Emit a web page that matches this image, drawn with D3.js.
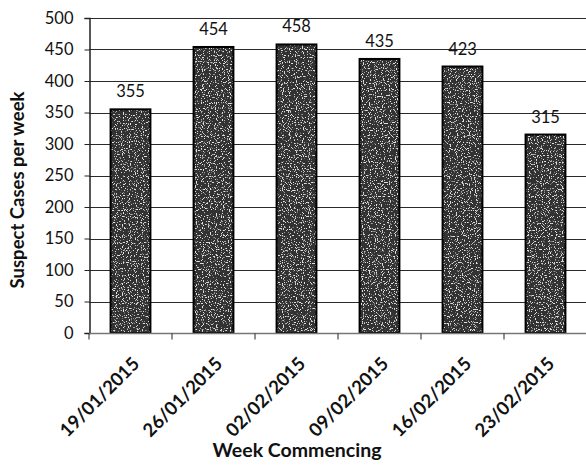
<!DOCTYPE html>
<html>
<head>
<meta charset="utf-8">
<script src="https://cdn.jsdelivr.net/npm/d3@7"></script>
<style>
  html, body { margin: 0; padding: 0; background: #fff; }
  svg { display: block; }
  text { font-family: Lato, "Open Sans", sans-serif; fill: #111; }
</style>
</head>
<body>
<svg id="chart" width="586" height="465"></svg>
<script>
// Weekly suspect cases
const weeks = ["19/01/2015", "26/01/2015", "02/02/2015", "09/02/2015", "16/02/2015", "23/02/2015"];
const cases = [355, 454, 458, 435, 423, 315];
const yTicks = [0, 50, 100, 150, 200, 250, 300, 350, 400, 450, 500];

const svg = d3.select("#chart");
const margin = { left: 89, right: 0, top: 18, bottom: 132 };
const W = 586, H = 465;
const x0 = margin.left, x1 = 587;
const yTop = margin.top, yBot = H - margin.bottom;

const x = d3.scaleBand().domain(weeks).range([x0, x1]).paddingInner(0.52).paddingOuter(0.26);
const y = d3.scaleLinear().domain([0, 500]).range([yBot, yTop]);

// speckle texture for the bars
const defs = svg.append("defs");
const f = defs.append("filter").attr("id", "speckle")
  .attr("x", "-5%").attr("y", "-5%").attr("width", "110%").attr("height", "110%");
f.append("feTurbulence").attr("type", "fractalNoise").attr("baseFrequency", 0.85).attr("numOctaves", 1).attr("seed", 3).attr("result", "noise");
f.append("feColorMatrix").attr("in", "noise").attr("type", "matrix")
  .attr("values", "0 0 0 0 1  0 0 0 0 1  0 0 0 0 1  0 0 0 11 -6.4").attr("result", "dots");
f.append("feComposite").attr("in", "dots").attr("in2", "SourceGraphic").attr("operator", "in").attr("result", "dotsIn");
f.append("feComponentTransfer").attr("in", "dotsIn").attr("result", "dotsSoft")
  .append("feFuncA").attr("type", "linear").attr("slope", 0.75);
f.append("feMerge").selectAll("feMergeNode").data(["SourceGraphic", "dotsSoft"]).join("feMergeNode").attr("in", d => d);

// gridlines
svg.append("g").selectAll("line").data(yTicks.filter(d => d > 0)).join("line")
  .attr("x1", x0).attr("x2", x1)
  .attr("y1", d => Math.round(y(d)) + 0.5).attr("y2", d => Math.round(y(d)) + 0.5)
  .attr("stroke", "#2a2a2a").attr("stroke-width", 1.2);

// y axis
const yAxis = svg.append("g").attr("transform", `translate(${x0 + 0.5},0)`)
  .call(d3.axisLeft(y).tickValues(yTicks).tickSize(5).tickPadding(11));
yAxis.select(".domain").attr("stroke", "#222").attr("stroke-width", 1.5);
yAxis.selectAll(".tick line").attr("stroke", "#222");
yAxis.selectAll("text").attr("font-size", 16.5).attr("fill", "#111").style("font-family", "Lato, sans-serif");

// bars: textured fill, then a crisp outline
const bars = svg.append("g");
bars.selectAll("rect.fill").data(weeks).join("rect").attr("class", "fill")
  .attr("x", d => x(d)).attr("width", x.bandwidth())
  .attr("y", (d, i) => y(cases[i])).attr("height", (d, i) => yBot - y(cases[i]))
  .attr("fill", "#333").attr("filter", "url(#speckle)");
bars.selectAll("rect.edge").data(weeks).join("rect").attr("class", "edge")
  .attr("x", d => x(d)).attr("width", x.bandwidth())
  .attr("y", (d, i) => y(cases[i])).attr("height", (d, i) => yBot - y(cases[i]))
  .attr("fill", "none").attr("stroke", "#000").attr("stroke-width", 2);

// x axis
const step = (x1 - x0) / weeks.length;
const xAxis = svg.append("g").attr("transform", `translate(0,${yBot + 0.5})`);
xAxis.append("line").attr("x1", x0).attr("x2", x1).attr("stroke", "#777").attr("stroke-width", 1.5);
xAxis.selectAll(".tk").data(d3.range(weeks.length)).join("line").attr("class", "tk")
  .attr("x1", i => x0 + i * step).attr("x2", i => x0 + i * step).attr("y1", 0).attr("y2", 6)
  .attr("stroke", "#222");

// value labels
svg.append("g").selectAll("text").data(weeks).join("text")
  .attr("x", d => x(d) + x.bandwidth() / 2)
  .attr("y", (d, i) => y(cases[i]) - 12)
  .attr("text-anchor", "middle").attr("font-size", 16.5)
  .text((d, i) => cases[i]);

// rotated category labels
svg.append("g").selectAll("text").data(weeks).join("text")
  .attr("transform", d => `translate(${x(d) + x.bandwidth() / 2 + 10},${yBot + 32}) rotate(-45)`)
  .attr("text-anchor", "end").attr("font-size", 18.5).attr("font-weight", 700)
  .text(d => d);

// axis titles
svg.append("text").attr("x", 297).attr("y", 457).attr("text-anchor", "middle")
  .attr("font-size", 19.5).attr("font-weight", 700).text("Week Commencing");
svg.append("text").attr("transform", `translate(24,190) rotate(-90)`)
  .attr("text-anchor", "middle").attr("font-size", 18.5).attr("font-weight", 700)
  .text("Suspect Cases per week");
</script>
</body>
</html>
